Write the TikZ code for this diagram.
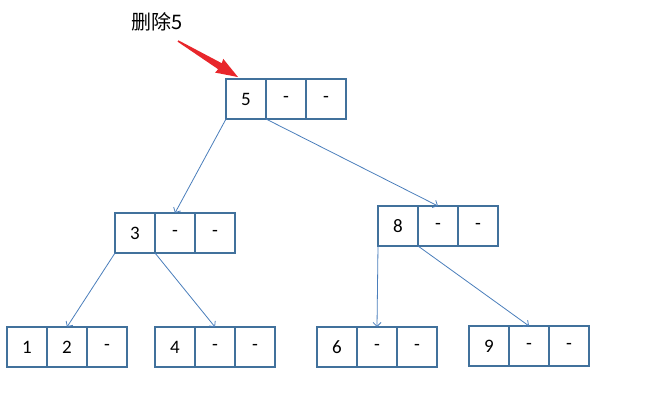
\documentclass[tikz,border=0pt]{standalone}
\usepackage{fontspec}
\setmainfont{Carlito}
\newfontfamily\cjk{Noto Sans CJK SC}
\usetikzlibrary{positioning,arrows.meta}
\definecolor{boxblue}{HTML}{41719C}
\definecolor{lineblue}{HTML}{4A7EBB}
\definecolor{markred}{HTML}{E8262B}
\begin{document}
\begin{tikzpicture}[x=1pt,y=-1pt,
    cell/.style={draw=boxblue,line width=1.8pt,minimum width=40pt,minimum height=40pt,
        outer sep=0pt,inner sep=0pt,font=\fontsize{19}{19}\selectfont},
    link/.style={draw=lineblue,line width=0.8pt,-{Straight Barb[length=4pt,width=8pt]}}]
    \useasboundingbox (0,0) rectangle (662,415);

    \node[cell] (k5) at (246,99) {5};
    \node[cell,right=0pt of k5] (k5b) {-};
    \node[cell,right=0pt of k5b] (k5c) {-};

    \node[cell] (k3) at (135,233) {3};
    \node[cell,right=0pt of k3] (k3b) {-};
    \node[cell,right=0pt of k3b] (k3c) {-};

    \node[cell] (k8) at (398,226) {8};
    \node[cell,right=0pt of k8] (k8b) {-};
    \node[cell,right=0pt of k8b] (k8c) {-};

    \node[cell] (k1) at (27,347) {1};
    \node[cell,right=0pt of k1] (k2) {2};
    \node[cell,right=0pt of k2] (k12c) {-};

    \node[cell] (k4) at (175,347) {4};
    \node[cell,right=0pt of k4] (k4b) {-};
    \node[cell,right=0pt of k4b] (k4c) {-};

    \node[cell] (k6) at (337,347) {6};
    \node[cell,right=0pt of k6] (k6b) {-};
    \node[cell,right=0pt of k6b] (k6c) {-};

    \node[cell] (k9) at (489,346) {9};
    \node[cell,right=0pt of k9] (k9b) {-};
    \node[cell,right=0pt of k9b] (k9c) {-};

    \draw[link] (k5.south west) -- (k3b.north);
    \draw[link] (k5.south east) -- (k8b.north);
    \draw[link] (k3.south west) -- (k2.north);
    \draw[link] (k3.south east) -- (k4b.north);
    \draw[link] (k8.south west) -- (k6b.north);
    \draw[link] (k8.south east) -- (k9b.north);

    % delete marker
    \node[font=\cjk\fontsize{20}{20}\selectfont] (del) at (157,22) {删除5};
    \coordinate (delfrom) at (178,41);
    \begin{scope}[shift={(delfrom)},rotate=-31]
        \fill[markred] (0,-0.8) -- (49,-3.5) -- (48,-8) -- (70,0) -- (48,8) -- (49,3.5) -- (0,0.8) -- cycle;
    \end{scope}
\end{tikzpicture}
\end{document}
